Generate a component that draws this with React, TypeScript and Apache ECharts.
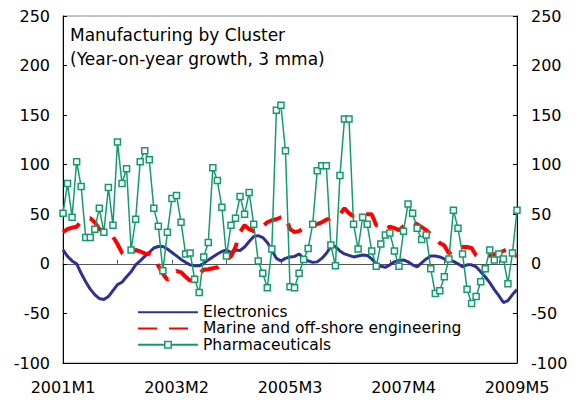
import React, { useEffect, useRef } from "react";
import * as echarts from "echarts";

const FONT = "DejaVu Sans";
const BLUE = "#2e3192";
const RED = "#ff0000";
const GREEN = "#129c6b";

const START_YEAR = 2001;
const N_MONTHS = 101;
const months: string[] = [];
for (let k = 0; k < N_MONTHS; k++) {
  months.push(`${START_YEAR + Math.floor(k / 12)}M${(k % 12) + 1}`);
}

const seriesNames = ["Electronics", "Marine and off-shore engineering", "Pharmaceuticals"];

const electronics = [
  14, 7.5, 3, 0, -9.5, -18, -25.5, -31, -35, -36,
  -33, -27, -21, -18.5, -13, -8, -1, 3, 7.5, 11.5,
  16, 17.5, 17.5, 15, 11.5, 8, 4.5, 1.5, -1, -2,
  -2, 0.5, 4, 7, 10, 12.5, 14, 11.5, 14, 13.5,
  17, 22.5, 27.5, 28.5, 26.5, 21.5, 14, 5.5, 3, 5.5,
  7, 7.5, 10, 5.5, 3, 1.5, 2, 5.5, 10.5, 17.5,
  17.5, 13, 10, 8.5, 7, 8, 9, 8.5, 5, 0,
  -2.5, -3.5, -1, 2, 3.5, 4, 2, -1, -3, 1,
  5, 8, 8, 7, 5, 4, 2.5, 0, -3, -1,
  -1, -3, -8, -13, -19, -26, -32, -39, -37, -31,
  -26,
];

const marine = [
  32, 35, 36.5, 37.5, 42.5, 45, 46, 42, 35, 33,
  30, 27.5, 20, 11, 8, 11, 14, 12.5, 10.5, 10,
  6, -2, -10, -16, -11, -7, -8.5, -13, -17, -14,
  -9.5, -6, -5.5, -4.5, -3.5, 0, 4, 7.5, 17, 32,
  39, 35, 33, 34, 38, 42, 44, 45, 47, 48,
  35, 32, 33, 36, 37.5, 38.5, 40, 42, 44.5, 46,
  47.5, 50, 56, 51, 48, 48, 49.5, 50, 50, 39,
  38, 34, 37.5, 36, 34, 38, 41.5, 42.5, 40, 37,
  34, 30, 25.5, 21, 18.5, 10.5, 13.5, 17.5, 17, 17,
  16, 8.5, 7, 7.5, 8.5, 9.5, 11, 13, 15, 14,
  7,
];

const pharma = [
  51, 81, 47, 103, 78, 26.5, 26.5, 35, 56, 32,
  77, 39, 123, 81, 96, 14, 45, 103, 114, 105,
  56, 38, -7, 32, 66, 69, 42, 10, 11, -15.5,
  -29, 7, 21.5, 97, 84, 57, 8, 39, 46, 68,
  50, 72, 40, 3, -9.5, -24, 15, 155, 160, 114,
  -23, -24, -9.5, 4.5, 15.5, 40, 94, 99, 99, 19,
  -2, 89, 146, 146, 40, 15, 47, 40, 13, -2.5,
  20, 29, 31, 13, -2.5, 33, 60.5, 51, 36, 24.5,
  29, -5, -30, -27, -13, 5, 54, 36, 10, -25.5,
  -40, -33, -18, -5, 14, 4, 10, 5, -20, 11,
  54,
];

const Y_MIN = -100;
const Y_MAX = 250;
const Y_STEP = 50;

export default function App() {
  const ref = useRef<HTMLDivElement>(null);
  useEffect(() => {
    if (!ref.current) return;
    const chart = echarts.init(ref.current, undefined, { renderer: "svg" });
    const yAxisCommon = {
      type: "value" as const,
      min: Y_MIN,
      max: Y_MAX,
      interval: Y_STEP,
      splitLine: { show: false },
      axisLine: { show: true, onZero: false, lineStyle: { color: "#000", width: 1 } },
      axisTick: { show: true, inside: true, length: 4, lineStyle: { color: "#000" } },
    };
    chart.setOption({
      animation: false,
      backgroundColor: "#fff",
      textStyle: { fontFamily: FONT },
      title: {
        text: "Manufacturing by Cluster\n(Year-on-year growth, 3 mma)",
        left: 70,
        top: 23,
        padding: 0,
        textStyle: { fontSize: 17, fontWeight: "normal", color: "#000", lineHeight: 24, fontFamily: FONT },
      },
      legend: {
        orient: "vertical",
        left: 137,
        top: 304,
        padding: 0,
        itemGap: 0,
        itemWidth: 60,
        itemHeight: 8,
        selectedMode: false,
        textStyle: { fontSize: 15.5, color: "#000", lineHeight: 16.3, fontFamily: FONT },
        data: [
          { name: seriesNames[0], itemStyle: { opacity: 0 } },
          { name: seriesNames[1], itemStyle: { opacity: 0 } },
          { name: seriesNames[2], itemStyle: { color: "#fff", borderColor: GREEN, borderWidth: 1.5 } },
        ],
      },
      grid: { left: 63, right: 62, top: 16, bottom: 37, show: true, borderColor: "#888", borderWidth: 1 },
      xAxis: [
        {
          type: "category",
          data: months,
          boundaryGap: false,
          position: "bottom",
          axisLine: { show: true, onZero: false, lineStyle: { color: "#000", width: 1 } },
          axisTick: { show: false },
          axisLabel: { interval: 24, color: "#000", fontSize: 16, margin: 16, fontFamily: FONT },
          splitLine: { show: false },
        },
        {
          type: "category",
          data: months,
          boundaryGap: false,
          position: "bottom",
          axisLine: { show: true, onZero: true, onZeroAxisIndex: 0, lineStyle: { color: "#555", width: 1 } },
          axisTick: { show: true, inside: true, interval: 11, length: 4, lineStyle: { color: "#555" } },
          axisLabel: { show: false },
          splitLine: { show: false },
        },
      ],
      yAxis: [
        {
          ...yAxisCommon,
          position: "left",
          axisLabel: { color: "#000", fontSize: 16, margin: 13, fontFamily: FONT },
        },
        {
          ...yAxisCommon,
          position: "right",
          axisLabel: { color: "#000", fontSize: 16, margin: 14, fontFamily: FONT },
        },
      ],
      series: [
        {
          name: seriesNames[0],
          type: "line",
          data: electronics,
          symbol: "none",
          lineStyle: { color: BLUE, width: 3 },
          itemStyle: { color: BLUE },
          silent: true,
          z: 3,
        },
        {
          name: seriesNames[1],
          type: "line",
          data: marine,
          symbol: "none",
          lineStyle: { color: RED, width: 4, type: [19, 12] },
          itemStyle: { color: RED },
          silent: true,
          z: 4,
        },
        {
          name: seriesNames[2],
          type: "line",
          data: pharma,
          symbol: "rect",
          symbolSize: 6,
          showAllSymbol: true,
          lineStyle: { color: GREEN, width: 1.5 },
          itemStyle: { color: "#fff", borderColor: GREEN, borderWidth: 1.5 },
          silent: true,
          z: 5,
        },
      ],
    });
    return () => chart.dispose();
  }, []);
  return (
    <div
      ref={ref}
      style={{ position: "fixed", left: 0, top: 0, width: 579, height: 400, background: "#fff" }}
    />
  );
}
